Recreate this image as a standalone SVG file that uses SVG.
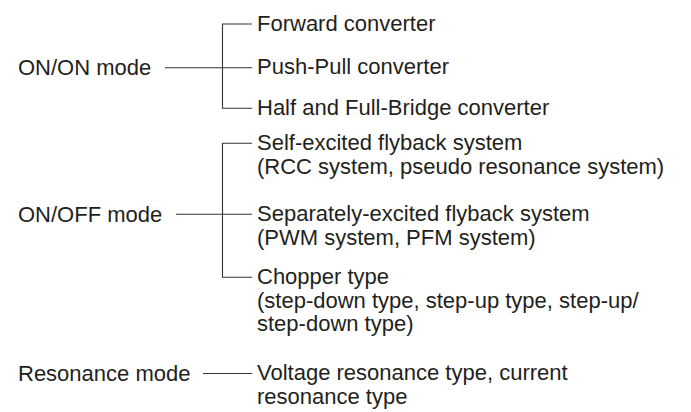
<svg xmlns="http://www.w3.org/2000/svg" width="691" height="412" viewBox="0 0 691 412">
<style>
text{font-family:"Liberation Sans",Arial,Helvetica,sans-serif;font-size:22px;fill:#231f20}
.c{fill:none;stroke:#333;stroke-width:1.1}
</style>
<rect width="691" height="412" fill="#fff"/>
<g id="connectors">
<path class="c" d="M165,67.7H252M252,24H222.5V108.3H252"/>
<path class="c" d="M176,214.3H252M252,143.3H222.5V277.3H252"/>
<path class="c" d="M203,373.5H252"/>
</g>
<g id="onon"><text x="18" y="75">ON/ON mode</text></g>
<g id="onoff"><text x="18" y="221.5">ON/OFF mode</text></g>
<g id="resonance"><text x="18" y="381">Resonance mode</text></g>
<g id="forward"><text x="257" y="30.5">Forward converter</text></g>
<g id="pushpull"><text x="257" y="74">Push-Pull converter</text></g>
<g id="bridge"><text x="257" y="115">Half and Full-Bridge converter</text></g>
<g id="selfexcited"><text x="257" y="150">Self-excited flyback system</text><text x="257" y="173.5">(RCC system, pseudo resonance system)</text></g>
<g id="separately"><text x="257" y="221">Separately-excited flyback system</text><text x="257" y="244.5">(PWM system, PFM system)</text></g>
<g id="chopper"><text x="257" y="284">Chopper type</text><text x="257" y="307.5">(step-down type, step-up type, step-up/</text><text x="257" y="331">step-down type)</text></g>
<g id="voltage"><text x="257" y="380">Voltage resonance type, current</text><text x="257" y="403.5">resonance type</text></g>
</svg>
